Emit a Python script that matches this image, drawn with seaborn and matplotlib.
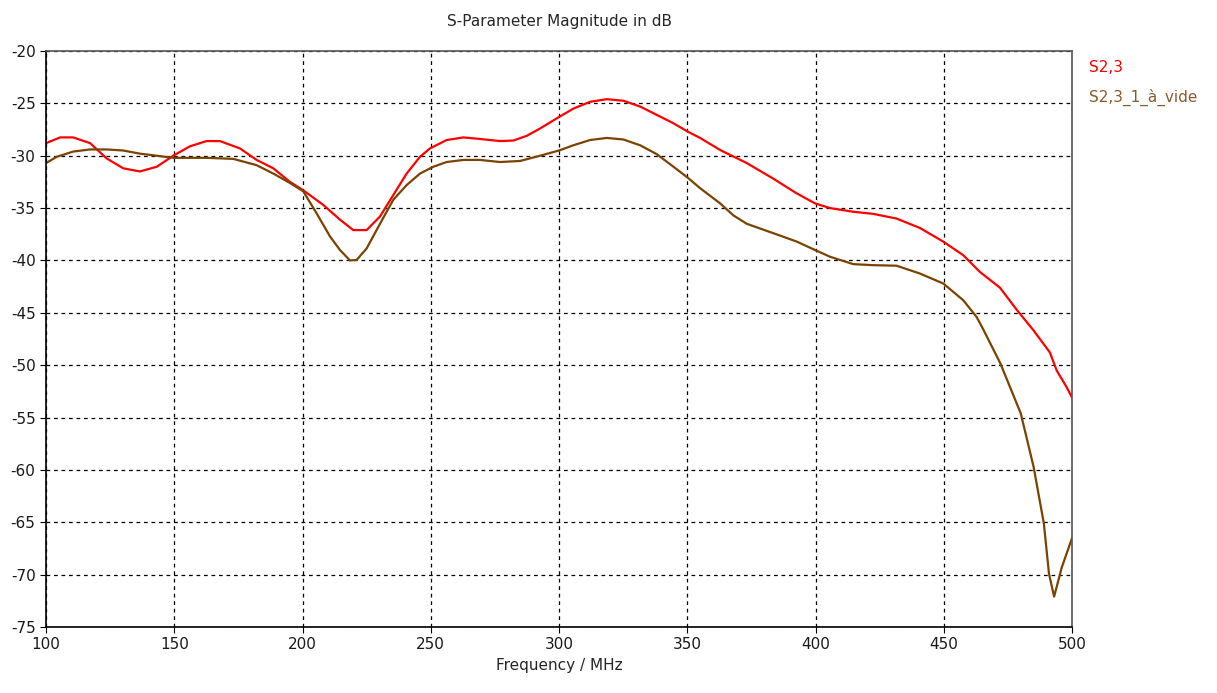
import numpy as np
import pandas as pd
import matplotlib
matplotlib.use("Agg")
import matplotlib.pyplot as plt
import seaborn as sns

# S2,3 trace
freq_s23 = [100, 105.5, 110.6, 117.2, 123.6, 130.1, 136.6, 143.2, 149.6, 156.1,
            162.6, 167.8, 175.6, 182.1, 188.6, 195.1, 200.3, 208.1, 214.6, 219.8,
            225, 230.2, 235.4, 240.6, 245.8, 249.7, 256.2, 262.7, 269.2, 277,
            282.2, 287.4, 292.6, 300, 305.6, 312.1, 318.6, 325.1, 331.6, 338.1,
            344.6, 350.2, 355, 362.8, 373.2, 383.6, 392.7, 399.8, 405.7, 414.7,
            422.5, 431.6, 440.7, 449.8, 457.6, 464.1, 471.9, 478.4, 484.9, 491.4,
            494, 497.9, 500]
s23 = [-28.8, -28.25, -28.25, -28.8, -30.25, -31.2, -31.5, -31.05, -30.0, -29.1,
       -28.6, -28.6, -29.3, -30.4, -31.2, -32.5, -33.3, -34.7, -36.1, -37.1,
       -37.1, -35.8, -33.75, -31.7, -30.1, -29.3, -28.5, -28.25, -28.4, -28.6,
       -28.55, -28.1, -27.4, -26.3, -25.5, -24.85, -24.6, -24.75, -25.3, -26.1,
       -26.9, -27.7, -28.3, -29.45, -30.7, -32.2, -33.6, -34.55, -35.0, -35.35,
       -35.55, -36.0, -36.9, -38.2, -39.5, -41.1, -42.6, -44.7, -46.65, -48.8,
       -50.5, -52.1, -53.1]

# S2,3_1_à_vide trace
freq_vide = [100, 104.2, 110.6, 117.2, 123.6, 130.1, 136.6, 143.2, 149.6, 162.6,
             173, 182.1, 188.6, 195.1, 200.3, 205.5, 210.7, 214.6, 218.5, 221.1,
             225, 230.2, 235.4, 240.6, 245.8, 251, 256.2, 262.7, 269.2, 277,
             284.8, 292.6, 300, 305.6, 312.1, 318.6, 325.1, 331.6, 338.1, 344.6,
             350.2, 355, 362.8, 368, 373.2, 383.6, 392.7, 399.8, 405.7, 414.7,
             422.5, 431.6, 440.7, 449.8, 457.6, 462.8, 465, 472, 480, 485, 489,
             491, 493, 496, 500]
s23_vide = [-30.7, -30.1, -29.6, -29.4, -29.4, -29.5, -29.8, -30.0, -30.2, -30.2,
            -30.3, -30.9, -31.7, -32.6, -33.4, -35.5, -37.7, -39.0, -40.0, -39.95,
            -38.85, -36.5, -34.2, -32.8, -31.7, -31.05, -30.6, -30.4, -30.4, -30.6,
            -30.5, -30.0, -29.5, -29.0, -28.5, -28.3, -28.45, -29.0, -29.85, -31.05,
            -32.1, -33.1, -34.55, -35.7, -36.5, -37.4, -38.2, -39.0, -39.65, -40.35,
            -40.45, -40.5, -41.25, -42.2, -43.8, -45.4, -46.4, -49.8, -54.6, -59.7,
            -65.1, -69.9, -72.1, -69.3, -66.5]

labels = ["S2,3", "S2,3_1_à_vide"]
colors = ["#ff0000", "#7a4300"]

df = pd.concat([
    pd.DataFrame({"f": freq_s23, "db": s23, "trace": labels[0]}),
    pd.DataFrame({"f": freq_vide, "db": s23_vide, "trace": labels[1]}),
])

sns.set_style("white")
plt.rcParams["font.family"] = ["DejaVu Sans"]
plt.rcParams["axes.unicode_minus"] = False

fig = plt.figure(figsize=(12.17, 6.93), dpi=100)
ax = fig.add_axes([0.0378, 0.0952, 0.8431, 0.8312])

sns.lineplot(data=df, x="f", y="db", hue="trace", palette=colors, sort=False,
             linewidth=1.6, legend=False, ax=ax)

ax.set_xlim(100, 500)
ax.set_ylim(-75, -20)
ax.set_xticks(np.arange(100, 501, 50))
ax.set_yticks(np.arange(-75, -19, 5))
ax.grid(True, color="black", linestyle=(0, (3, 3)), linewidth=0.9)
ax.tick_params(labelsize=11, length=4, direction="out", color="black",
               bottom=True, left=True, colors="#1a1a1a")
for side in ["left", "bottom"]:
    ax.spines[side].set_color("black")
    ax.spines[side].set_linewidth(1.2)
for side in ["top", "right"]:
    ax.spines[side].set_color("#555555")
    ax.spines[side].set_linewidth(1.2)

ax.set_xlabel("Frequency / MHz", fontsize=11)
ax.set_ylabel("")
ax.set_title("S-Parameter Magnitude in dB", fontsize=11, pad=18)

fig.text(0.895, 0.902, labels[0], color="#ff0000", fontsize=11, va="center")
fig.text(0.895, 0.860, labels[1], color="#8b5a2b", fontsize=11, va="center")

fig.savefig("out.png", dpi=100, facecolor="white")
